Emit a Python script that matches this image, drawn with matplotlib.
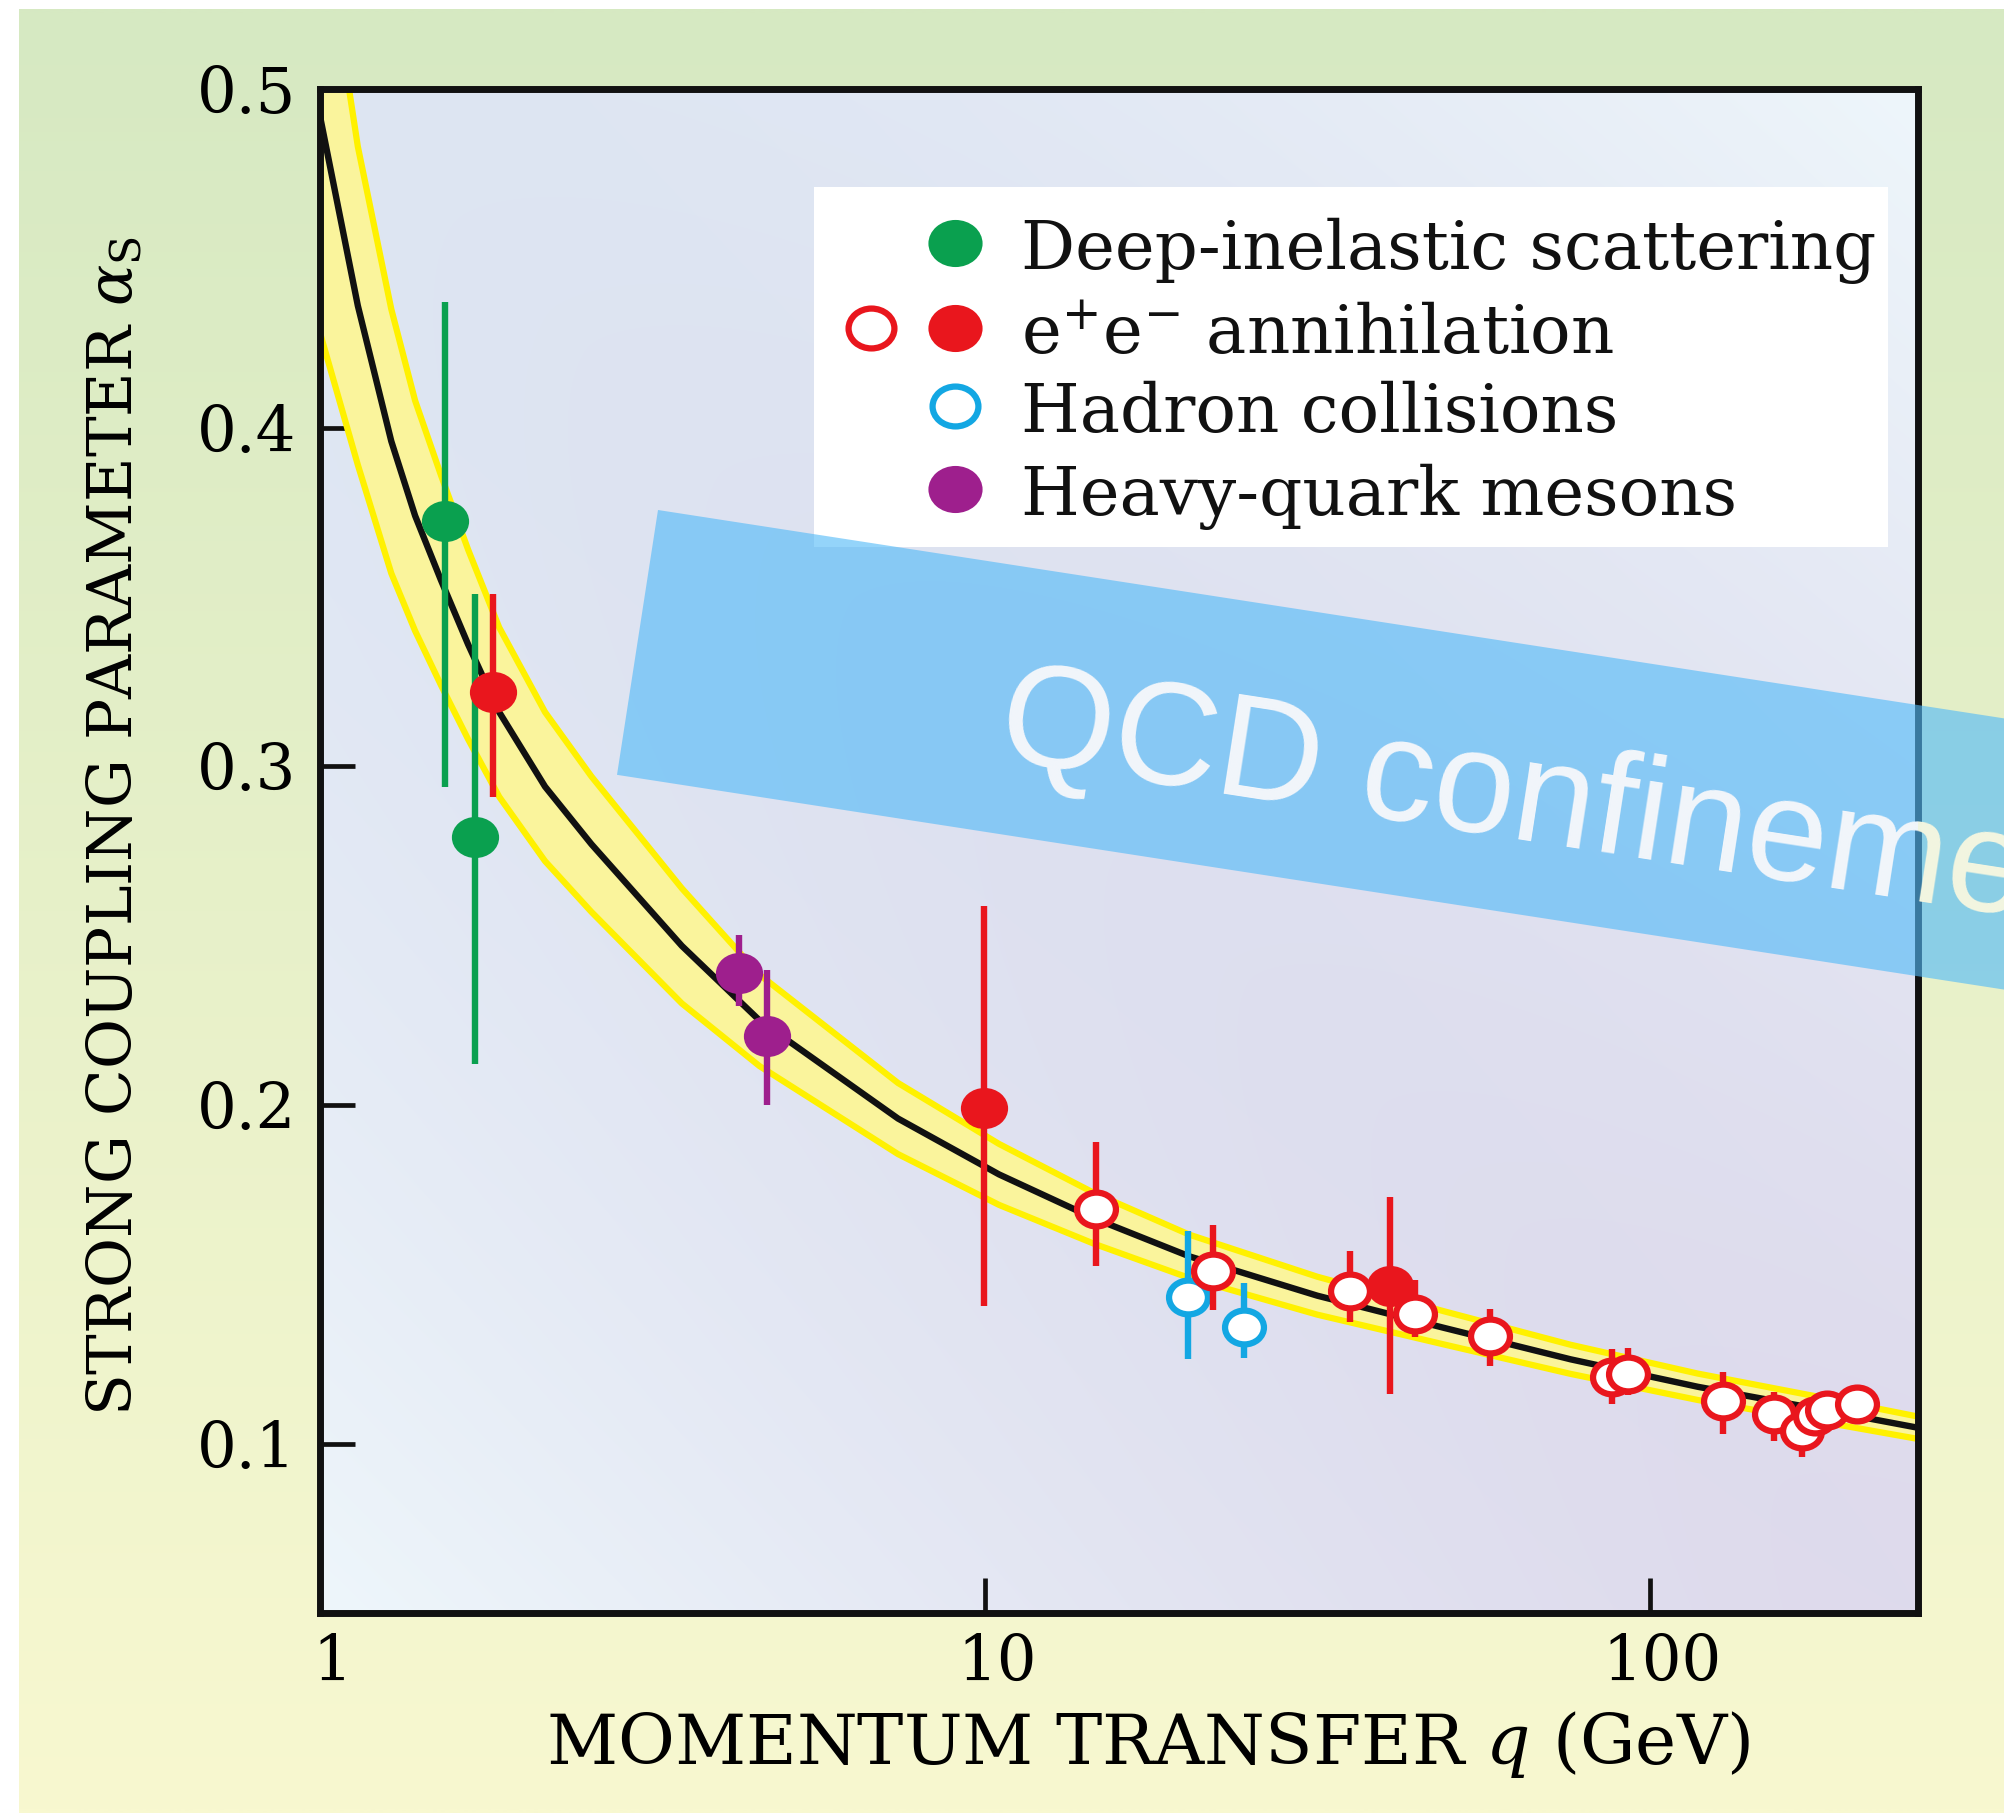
import matplotlib
matplotlib.use("Agg")
import matplotlib.pyplot as plt
import numpy as np
from matplotlib.path import Path
from matplotlib.patches import Polygon, Rectangle
from matplotlib.lines import Line2D
from matplotlib.transforms import Affine2D, Bbox, TransformedBbox, ScaledTranslation

W, H, DPI = 2004, 1813, 100

# running coupling alpha_s(q) with its uncertainty band
curve_q = [1.0, 1.14, 1.28, 1.39, 1.52, 1.67, 1.86, 2.18, 2.56, 3.5, 4.58,
           7.4, 10.5, 14.6, 20.3, 31.6, 49, 76, 118, 183, 253]
curve_alpha = [0.492, 0.436, 0.396, 0.374, 0.355, 0.336, 0.316, 0.294, 0.277,
               0.247, 0.225, 0.196, 0.1795, 0.1665, 0.1553, 0.1437, 0.1342,
               0.1249, 0.1168, 0.1099, 0.1047]
band_lo = [0.428, 0.389, 0.357, 0.340, 0.324, 0.308, 0.291, 0.272, 0.257,
           0.230, 0.2115, 0.1855, 0.1705, 0.1590, 0.1489, 0.1381, 0.1293,
           0.1206, 0.1129, 0.1063, 0.1014]
band_hi = [0.556, 0.483, 0.435, 0.408, 0.386, 0.364, 0.341, 0.316, 0.297,
           0.264, 0.2385, 0.2065, 0.1885, 0.1740, 0.1617, 0.1493, 0.1391,
           0.1292, 0.1207, 0.1135, 0.1080]

# measurements: q (GeV), alpha_s, lower and upper end of the error bar
dis_q = [1.54, 1.71]
dis_a = [0.3725, 0.279]
dis_lo = [0.294, 0.212]
dis_hi = [0.437, 0.351]

ee_full_q = [1.82, 9.95, 40.6]
ee_full_a = [0.322, 0.199, 0.1466]
ee_full_lo = [0.291, 0.1407, 0.1147]
ee_full_hi = [0.351, 0.2587, 0.1729]

ee_open_q = [14.7, 22.0, 35.4, 44.4, 57.4, 87.6, 92.8, 128.7, 153.6, 169.2,
             176.8, 184.9, 204.6]
ee_open_a = [0.1694, 0.1510, 0.1452, 0.1383, 0.1317, 0.1198, 0.1207, 0.1127,
             0.1087, 0.1038, 0.1083, 0.1098, 0.1117]
ee_open_lo = [0.1525, 0.1396, 0.1358, 0.1314, 0.1230, 0.1117, 0.1143, 0.1030,
              0.1009, 0.0962, 0.1011, 0.1060, 0.1080]
ee_open_hi = [0.1890, 0.1646, 0.1569, 0.1484, 0.1397, 0.1279, 0.1283, 0.1211,
              0.1152, 0.1106, 0.1124, 0.1120, 0.1150]

had_q = [20.2, 24.5]
had_a = [0.1433, 0.1345]
had_lo = [0.1249, 0.1254]
had_hi = [0.1629, 0.1475]

hq_q = [4.27, 4.70]
hq_a = [0.239, 0.2203]
hq_lo = [0.2291, 0.2001]
hq_hi = [0.2502, 0.240]

x_ticks = [1, 10, 100]
x_ticklabels = ["1", "10", "100"]
y_ticks = [0.1, 0.2, 0.3, 0.4, 0.5]
y_ticklabels = ["0.1", "0.2", "0.3", "0.4", "0.5"]

legend_labels = ["Deep-inelastic scattering", r"e$^{+}$e$^{-}$ annihilation",
                 "Hadron collisions", "Heavy-quark mesons"]

GREEN = "#0aa04f"
RED = "#e9161d"
PURPLE = "#9e1f8d"
BLUE = "#13a7e3"
BAND = "#faf49c"
BAND_EDGE = "#fff100"
INK = "#111111"

plt.rcParams["font.family"] = ["DejaVu Serif"]
plt.rcParams["mathtext.fontset"] = "dejavuserif"

# slightly flattened circle used for all data markers
_circ = Path.unit_circle()
ELLIPSE = Path(Affine2D().scale(1.15, 1.0).transform(_circ.vertices), _circ.codes)


def fx(px):
    return px / W


def fy(py):
    return 1 - py / H


fig = plt.figure(figsize=(W / DPI, H / DPI), dpi=DPI, facecolor="white")

# backdrop: green-to-yellow page, pale lavender plot area
bg = fig.add_axes([0, 0, 1, 1])
bg.set_xlim(0, W)
bg.set_ylim(H, 0)
bg.axis("off")
t = np.linspace(0, 1, 256)[:, None, None]
top = np.array([214, 233, 194]) / 255
bot = np.array([248, 248, 208]) / 255
page = top + (bot - top) * t
page = np.repeat(page, 2, axis=1)
bg.imshow(page, extent=(19, W, H, 9), aspect="auto", interpolation="bilinear")

u, v = np.meshgrid(np.linspace(0, 1, 200), np.linspace(1, 0, 200))
tl = np.array([221, 230, 243]) / 255
br = np.array([222, 218, 236]) / 255
light = np.array([238, 246, 251]) / 255
mix = ((u - v + 1) / 2)[..., None]
base = tl + (br - tl) * mix
f = (np.abs(u + v - 1) ** 1.6)[..., None]
inner = base + (light - base) * f
bg.imshow(inner, extent=(320, 1918, 1613, 89), aspect="auto", interpolation="bilinear")

ax = fig.add_axes([fx(320), fy(1613), (1918 - 320) / W, (1613 - 89) / H])
ax.patch.set_alpha(0)
ax.set_xscale("log")

ax.fill_between(curve_q, band_lo, band_hi, color=BAND, lw=0, zorder=2)
ax.plot(curve_q, band_lo, color=BAND_EDGE, lw=4.5, zorder=2.2)
ax.plot(curve_q, band_hi, color=BAND_EDGE, lw=4.5, zorder=2.2)
ax.plot(curve_q, curve_alpha, color=INK, lw=4.6, zorder=3)


def draw_series(q, a, lo, hi, color, filled, z):
    a = np.asarray(a)
    yerr = [a - np.asarray(lo), np.asarray(hi) - a]
    ax.errorbar(q, a, yerr=yerr, fmt="none", ecolor=color, elinewidth=4.6,
                capsize=0, zorder=z)
    if filled:
        ax.plot(q, a, ls="none", marker=ELLIPSE, ms=34, mfc=color, mec=color,
                mew=0, zorder=z + 0.1)
    else:
        ax.plot(q, a, ls="none", marker=ELLIPSE, ms=28, mfc="white", mec=color,
                mew=4.5, zorder=z + 0.1)


draw_series(dis_q, dis_a, dis_lo, dis_hi, GREEN, True, 4)
draw_series(hq_q, hq_a, hq_lo, hq_hi, PURPLE, True, 4)
draw_series(had_q, had_a, had_lo, had_hi, BLUE, False, 4.2)
draw_series(ee_full_q, ee_full_a, ee_full_lo, ee_full_hi, RED, True, 4.4)
draw_series(ee_open_q, ee_open_a, ee_open_lo, ee_open_hi, RED, False, 4.6)

ax.set_xlim(1, 253)
ax.set_ylim(0.05, 0.5)
ax.set_xticks(x_ticks)
ax.set_xticklabels(x_ticklabels)
ax.xaxis.set_minor_locator(matplotlib.ticker.NullLocator())
ax.set_yticks(y_ticks)
ax.set_yticklabels(y_ticklabels)
ax.tick_params(direction="in", length=25, width=3.4, labelsize=45, color=INK)
ax.tick_params(axis="y", pad=17)
ax.tick_params(axis="x", pad=14)
for lbl in ax.get_xticklabels():
    lbl.set_transform(lbl.get_transform() + ScaledTranslation(12 / DPI, 0, fig.dpi_scale_trans))
for sp in ax.spines.values():
    sp.set_linewidth(5)
    sp.set_color(INK)

ax.set_xlabel(r"MOMENTUM TRANSFER $q$ (GeV)", fontsize=50)
ax.xaxis.set_label_coords(0.518, -0.063)
ax.set_ylabel(r"STRONG COUPLING PARAMETER $\alpha_{\rm S}$", fontsize=44)
ax.yaxis.set_label_coords(-0.109, 0.516)

# key box
fig.add_artist(Rectangle((fx(814), fy(547)), (1888 - 814) / W, (547 - 187) / H,
                         transform=fig.transFigure, facecolor="white",
                         edgecolor="none", zorder=6))
rows_y = [243, 328, 406, 489]
key = [(GREEN, True), (RED, True), (BLUE, False), (PURPLE, True)]
for ry, (col, filled), label in zip(rows_y, key, legend_labels):
    if filled:
        fig.add_artist(Line2D([fx(955)], [fy(ry)], transform=fig.transFigure,
                              marker=ELLIPSE, ms=39, mfc=col, mec=col, mew=0,
                              ls="none", zorder=7))
    else:
        fig.add_artist(Line2D([fx(955)], [fy(ry)], transform=fig.transFigure,
                              marker=ELLIPSE, ms=33, mfc="white", mec=col, mew=4.5,
                              ls="none", zorder=7))
    fig.text(fx(1021), fy(ry), label, fontsize=48.5, ha="left", va="center_baseline",
             color=INK, zorder=7)
fig.add_artist(Line2D([fx(871)], [fy(rows_y[1])], transform=fig.transFigure,
                      marker=ELLIPSE, ms=33, mfc="white", mec=RED, mew=4.5,
                      ls="none", zorder=7))

# translucent slanted banner over the plot
ang = np.deg2rad(8.8)
d = np.array([np.cos(ang), np.sin(ang)])
n = np.array([-np.sin(ang), np.cos(ang)])
p0 = np.array([658.0, 510.0])
corners = [p0, p0 + 1700 * d, p0 + 1700 * d + 268 * n, p0 + 268 * n]
fig.add_artist(Polygon([(fx(c[0]), fy(c[1])) for c in corners], closed=True,
                       transform=fig.transFigure, facecolor="#52baf8",
                       edgecolor="none", alpha=0.62, zorder=10))
kw = dict(fontsize=105, family="Liberation Sans", rotation=-8.8,
          rotation_mode="anchor", ha="left", va="baseline", zorder=11)
t_in = fig.text(fx(995), fy(758), "QCD confinement", color="#f2f6fb", **kw)
t_in.set_clip_box(ax.bbox)
t_out = fig.text(fx(995), fy(758), "QCD confinement", color="#f3f6e0", **kw)
t_out.set_clip_box(TransformedBbox(Bbox([[1, -1], [3, 2]]), ax.transAxes))

fig.savefig("out.png", dpi=DPI)
